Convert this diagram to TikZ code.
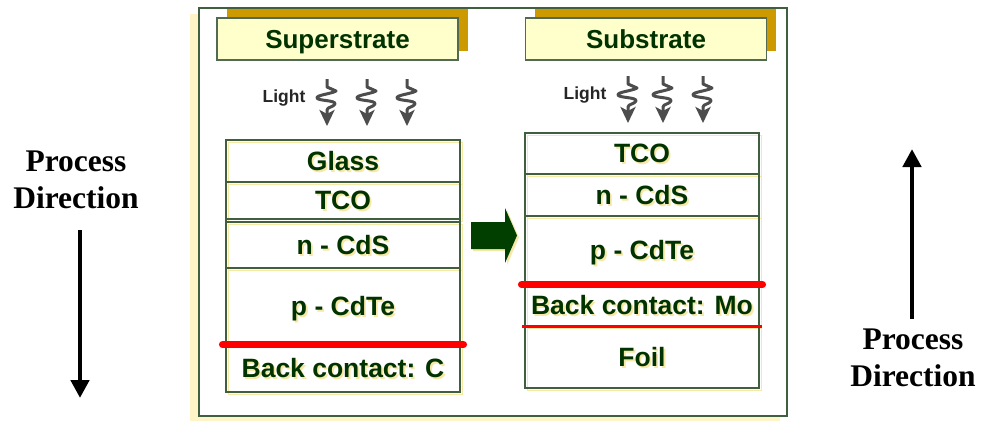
\documentclass[tikz,border=0pt]{standalone}
\usepackage{fontspec}
\setmainfont{Liberation Sans}
\newfontfamily\procfont{Liberation Serif}
\usepackage{xcolor}
\usetikzlibrary{arrows.meta,positioning}

\definecolor{txtgreen}{HTML}{003300}
\definecolor{txtshade}{HTML}{F7E8A6}
\definecolor{framegreen}{HTML}{3F5F3F}
\definecolor{backyellow}{HTML}{FFF3C8}
\definecolor{titlefill}{HTML}{FFFFCC}
\definecolor{titlegold}{HTML}{CC9900}
\definecolor{raygray}{HTML}{4D4D4D}
\definecolor{arrowgreen}{HTML}{003F00}

\newcommand{\shadedtxt}[1]{\makebox[0pt][l]{\kern1.8pt\raisebox{-1.8pt}{\color{txtshade}#1}}#1}

\begin{document}
\begin{tikzpicture}[x=1pt,y=-1pt,
    layer/.style={draw=framegreen, line width=1.1pt, minimum width=234pt, inner sep=0pt, text depth=0pt,
        font=\fontsize{26.5}{30}\selectfont\bfseries, text=txtgreen,
        preaction={draw=txtshade, line width=1pt, transform canvas={shift={(2.2pt,-2.2pt)}}}},
    titlebox/.style={draw=framegreen!70!gray, line width=1.2pt, fill=titlefill, minimum width=241pt, minimum height=42pt,
        inner sep=0pt, text depth=0pt, font=\fontsize{26}{30}\selectfont\bfseries, text=txtgreen,
        preaction={fill=titlegold, transform canvas={shift={(9.5pt,9.5pt)}}}},
    lighttxt/.style={font=\fontsize{17.5}{20}\selectfont\bfseries, text=black!85, inner sep=0pt},
    ray/.style={draw=raygray, line width=3pt, line join=round, -{Stealth[length=16pt,width=15pt,inset=4pt]}},
    procnode/.style={font=\procfont\fontsize{31.5}{37}\selectfont\bfseries, align=center, inner sep=0pt},
    procarrow/.style={line width=4.8pt, -{Triangle[length=18pt,width=18pt]}},
    thickred/.style={draw=red, line width=7pt, line cap=round},
    thinred/.style={draw=red, line width=2.5pt}
]
\useasboundingbox (0,0) rectangle (982,421);

% panel
\fill[backyellow] (190,14) rectangle (780,421);
\draw[framegreen, line width=1.8pt, fill=white] (199,8) rectangle (787,416);

\node[titlebox] (supT) at (337.5,39) {Superstrate};
\node[titlebox] (subT) at (646,39) {Substrate};

% light
\node[lighttxt] (lightL) at (284,98) {Light};
\node[lighttxt] (lightR) at (585,95) {Light};
\foreach \rx/\ry in {327/79, 367/79, 407/79, 628/76, 663/76, 703/76}{
  \begin{scope}[shift={(\rx,\ry)}]
    \draw[ray] (0,0) -- (0,8) -- (9,12) .. controls (4,15) and (-11,16) .. (-10,19)
        .. controls (-9,22) and (9,21) .. (8,25) .. controls (7,28) and (0,28) .. (0,31) -- (0,47);
  \end{scope}
}

% superstrate stack
\fill[white] (226,140) rectangle (460,392);
\draw[framegreen, line width=1.1pt] (226,140) rectangle (460,392);
\node[layer, minimum height=42pt] (glsL) at (343,161) {\shadedtxt{Glass}};
\node[layer, minimum height=37pt] (tcoL) at (343,200.5) {\shadedtxt{TCO}};
\node[layer, minimum height=46pt] (cdsL) at (343,245) {\shadedtxt{n - CdS}};
\node[layer, minimum height=76pt] (cdteL) at (343,306) {\shadedtxt{p - CdTe}};
\node[layer, minimum height=48pt] (bcL) at (343,368) {\shadedtxt{Back contact: C}};
\draw[thickred] ([xshift=-3pt]cdteL.south west) -- ([xshift=3pt]cdteL.south east);

% substrate stack
\fill[white] (525,133) rectangle (759,388);
\node[layer, minimum height=41pt] (tcoR) at (642,153.5) {\shadedtxt{TCO}};
\node[layer, minimum height=42pt] (cdsR) at (642,195) {\shadedtxt{n - CdS}};
\node[layer, minimum height=68pt] (cdteR) at (642,250) {\shadedtxt{p - CdTe}};
\node[layer, minimum height=42pt] (bcR) at (642,305) {\shadedtxt{Back contact: Mo}};
\node[layer, minimum height=62pt] (foilR) at (642,357) {\shadedtxt{Foil}};
\draw[thickred] ([xshift=-3pt]cdteR.south west) -- ([xshift=3pt]cdteR.south east);
\draw[thinred] ([xshift=-2pt]bcR.south west) -- ([xshift=2pt]bcR.south east);

% step arrow
\fill[txtshade] (473,224) -- (507,224) -- (507,210) -- (519,237.5) -- (507,265) -- (507,251) -- (473,251) -- cycle;
\fill[arrowgreen] (471,222) -- (505,222) -- (505,208) -- (517,235.5) -- (505,263) -- (505,249) -- (471,249) -- cycle;

% process direction
\node[procnode] (procL) at (76,180) {Process\\Direction};
\coordinate (procLtop) at (80,230);
\coordinate (procLtip) at (80,398);
\draw[procarrow] (procLtop) -- (procLtip);

\node[procnode] (procR) at (913,358) {Process\\Direction};
\coordinate (procRbot) at (912,319);
\coordinate (procRtip) at (912,149);
\draw[procarrow] (procRbot) -- (procRtip);
\end{tikzpicture}
\end{document}
